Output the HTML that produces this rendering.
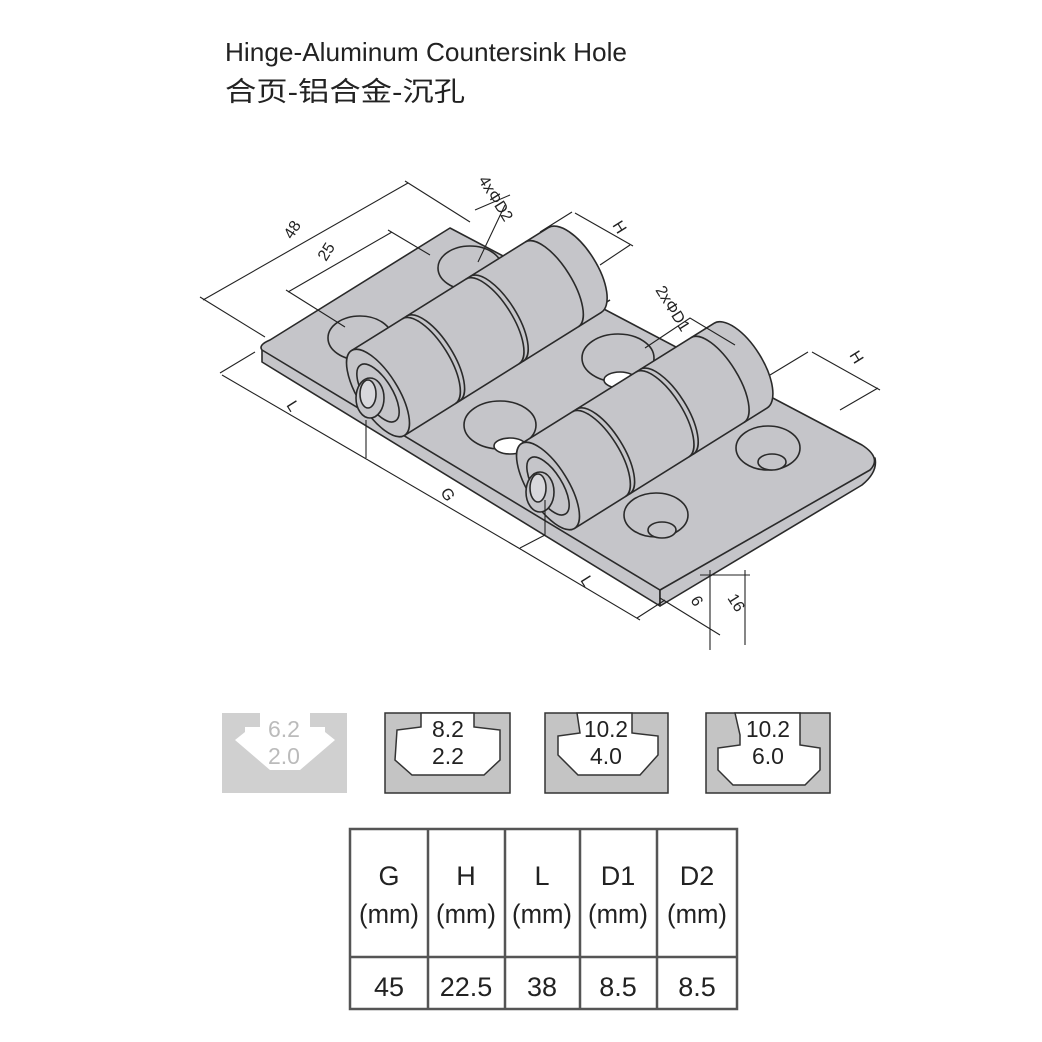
<!DOCTYPE html>
<html><head><meta charset="utf-8"><style>html,body{margin:0;padding:0;background:#fff}svg{display:block}</style></head>
<body>
<svg width="1042" height="1042" viewBox="0 0 1042 1042" xmlns="http://www.w3.org/2000/svg" font-family="Liberation Sans, Noto Sans CJK SC, sans-serif">
<rect width="1042" height="1042" fill="#fff"/>
<text x="225" y="61" font-size="26" fill="#222" textLength="402" lengthAdjust="spacingAndGlyphs">Hinge-Aluminum Countersink Hole</text>
<text x="225" y="101" font-size="27" fill="#222" textLength="240" lengthAdjust="spacingAndGlyphs" font-family="Liberation Sans, Noto Sans CJK SC, sans-serif">合页-铝合金-沉孔</text>

<g stroke="#2a2a2a" stroke-width="1.6" fill="#c5c5c9" stroke-linejoin="round">
  <path d="M262,346 L262,362 L660,606 L660,590 Z"/>
  <path d="M660,606 L862,485 Q878,472 875,458 L660,590 Z"/>
  <path d="M270,340 L450,228 L862,445 Q882,458 870,470 L660,590 L262,350 Q258,345 270,340 Z"/>
  <path d="M420,415 L610,300 M580,510 L760,400" fill="none"/>
  <ellipse cx="360" cy="338" rx="32" ry="22"/>
  <ellipse cx="470" cy="268" rx="32" ry="22"/>
  <ellipse cx="618" cy="358" rx="36" ry="24"/>
  <ellipse cx="620" cy="380" rx="16" ry="8" fill="#fff"/>
  <ellipse cx="500" cy="425" rx="36" ry="24"/>
  <ellipse cx="510" cy="446" rx="16" ry="8" fill="#fff"/>
  <ellipse cx="768" cy="448" rx="32" ry="22"/>
  <ellipse cx="772" cy="462" rx="14" ry="8"/>
  <ellipse cx="656" cy="515" rx="32" ry="22"/>
  <ellipse cx="662" cy="530" rx="14" ry="8"/>
  <g transform="translate(378,393) rotate(-32)">
    <path d="M0,-50 L232,-50 A22,50 0 0 1 232,50 L0,50 Z"/>
    <path d="M60,-50 A20,50 0 0 1 60,50 M65,-50 A20,50 0 0 1 65,50 M135,-50 A20,50 0 0 1 135,50 M140,-50 A20,50 0 0 1 140,50 M205,-50 A20,50 0 0 1 205,50" fill="none"/>
    <ellipse cx="0" cy="0" rx="20" ry="50"/>
    <ellipse cx="0" cy="0" rx="14" ry="33"/>
  </g>
  <ellipse cx="370" cy="398" rx="14" ry="20"/>
  <ellipse cx="368" cy="394" rx="8" ry="14" fill="#d8d8dc"/>
  <g transform="translate(548,486) rotate(-32)">
    <path d="M0,-50 L227,-50 A22,50 0 0 1 227,50 L0,50 Z"/>
    <path d="M60,-50 A20,50 0 0 1 60,50 M65,-50 A20,50 0 0 1 65,50 M135,-50 A20,50 0 0 1 135,50 M140,-50 A20,50 0 0 1 140,50 M200,-50 A20,50 0 0 1 200,50" fill="none"/>
    <ellipse cx="0" cy="0" rx="20" ry="50"/>
    <ellipse cx="0" cy="0" rx="14" ry="33"/>
  </g>
  <ellipse cx="540" cy="492" rx="14" ry="20"/>
  <ellipse cx="538" cy="488" rx="8" ry="14" fill="#d8d8dc"/>
</g>

<g stroke="#222" stroke-width="1.1" fill="none">
  <path d="M203,300 L408,183 M200,297 L265,337 M405,181 L470,222"/>
  <path d="M288,292 L392,232 M286,290 L345,327 M388,230 L430,255"/>
  <path d="M478,262 L505,205 M475,210 L510,195"/>
  <path d="M575,213 L633,246 M572,212 L540,232 M630,245 L600,265"/>
  <path d="M645,348 L690,318 L735,345"/>
  <path d="M812,352 L880,390 M808,352 L770,375 M878,388 L840,410"/>
  <path d="M222,375 L368,460 M220,373 L255,352 M366,458 L366,420"/>
  <path d="M368,460 L522,550 M520,548 L545,535 M545,535 L545,500"/>
  <path d="M522,550 L640,620 M637,618 L665,600"/>
  <path d="M660,598 L720,635 M710,570 L710,650 M745,570 L745,645 M700,575 L750,575"/>
</g>
<g font-size="16" fill="#222">
  <text transform="translate(292,240) rotate(-58)">48</text>
  <text transform="translate(326,262) rotate(-58)">25</text>
  <text transform="translate(478,180) rotate(58)">4xΦD2</text>
  <text transform="translate(612,225) rotate(58)">H</text>
  <text transform="translate(655,290) rotate(58)">2xΦD1</text>
  <text transform="translate(849,355) rotate(58)">H</text>
  <text transform="translate(286,405) rotate(58)">L</text>
  <text transform="translate(440,492) rotate(58)">G</text>
  <text transform="translate(580,580) rotate(58)">L</text>
  <text transform="translate(690,600) rotate(58)">6</text>
  <text transform="translate(727,598) rotate(58)">16</text>
</g>

<g>
  <rect x="222" y="713" width="125" height="80" fill="#d0d0d0"/>
  <path d="M260,713 L260,727 L245,727 L245,732 L235,740 L270,770 L300,770 L335,740 L325,732 L325,727 L310,727 L310,713 Z" fill="#fff"/>
  <text x="284" y="737" font-size="23" fill="#bbb" text-anchor="middle">6.2</text>
  <text x="284" y="764" font-size="23" fill="#bbb" text-anchor="middle">2.0</text>
</g>
<g stroke="#333" stroke-width="1.5">
  <rect x="385" y="713" width="125" height="80" fill="#c4c4c4"/>
  <path d="M421,713 L421,727 L397,730 L395,760 L412,775 L484,775 L500,760 L500,730 L474,727 L474,713 Z" fill="#fff"/>
  <rect x="545" y="713" width="123" height="80" fill="#c4c4c4"/>
  <path d="M577,713 L580,733 L558,736 L558,755 L578,775 L640,775 L658,755 L658,736 L632,733 L632,713 Z" fill="#fff"/>
  <rect x="706" y="713" width="124" height="80" fill="#c4c4c4"/>
  <path d="M735,713 L740,735 L740,745 L718,748 L718,770 L733,785 L805,785 L820,770 L820,748 L800,745 L800,713 Z" fill="#fff"/>
</g>
<g font-size="23" fill="#222" text-anchor="middle">
  <text x="448" y="737">8.2</text><text x="448" y="764">2.2</text>
  <text x="606" y="737" textLength="44" lengthAdjust="spacingAndGlyphs">10.2</text><text x="606" y="764">4.0</text>
  <text x="768" y="737" textLength="44" lengthAdjust="spacingAndGlyphs">10.2</text><text x="768" y="764">6.0</text>
</g>

<g stroke="#555" stroke-width="2.5" fill="none">
  <rect x="350" y="829" width="387" height="180"/>
  <path d="M350,957 H737 M428,829 V1009 M505,829 V1009 M580,829 V1009 M657,829 V1009"/>
</g>
<g font-size="27" fill="#222" text-anchor="middle">
  <text x="389" y="885">G</text><text x="466" y="885">H</text><text x="542" y="885">L</text><text x="618" y="885">D1</text><text x="697" y="885">D2</text>
  <text x="389" y="923" textLength="60" lengthAdjust="spacingAndGlyphs">(mm)</text><text x="466" y="923" textLength="60" lengthAdjust="spacingAndGlyphs">(mm)</text><text x="542" y="923" textLength="60" lengthAdjust="spacingAndGlyphs">(mm)</text><text x="618" y="923" textLength="60" lengthAdjust="spacingAndGlyphs">(mm)</text><text x="697" y="923" textLength="60" lengthAdjust="spacingAndGlyphs">(mm)</text>
  <text x="389" y="996">45</text><text x="466" y="996">22.5</text><text x="542" y="996">38</text><text x="618" y="996">8.5</text><text x="697" y="996">8.5</text>
</g>
</svg>
</body></html>
